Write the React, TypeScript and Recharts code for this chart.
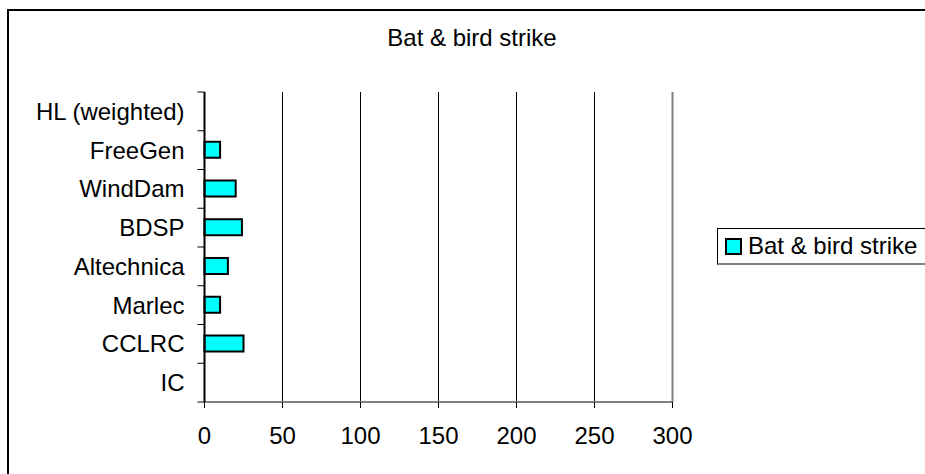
import React from 'react';
import {
  BarChart,
  Bar,
  XAxis,
  YAxis,
  CartesianGrid,
  Legend,
  ReferenceLine
} from 'recharts';

// ============================================================================
// Data
// ============================================================================

const categories = [
  'HL (weighted)',
  'FreeGen',
  'WindDam',
  'BDSP',
  'Altechnica',
  'Marlec',
  'CCLRC',
  'IC'
];

// null = no bar drawn
const strikeValues: (number | null)[] = [null, 10, 20, 24, 15, 10, 25, null];

const xTicks = [0, 50, 100, 150, 200, 250, 300];

const seriesName = 'Bat & bird strike';
const chartTitle = 'Bat & bird strike';

// ============================================================================
// Layout
// ============================================================================

const FONT = '"Liberation Sans", Arial, sans-serif';
const FONT_SIZE = 24;
const PLOT_TOP = 92;
const PLOT_BOTTOM = 402;
const PLOT_LEFT = 204.5;
const PLOT_RIGHT = 672.5;
const Y_TICK_SIZE = 7;
const Y_TICK_MARGIN = 13;

const chartData = categories.map((name, i) => ({ name, value: strikeValues[i] }));

// Category ticks sit between bands (Excel style), so draw them ourselves
const CategoryTick = (props: any) => {
  const { x, y, payload, index } = props;
  const half = (PLOT_BOTTOM - PLOT_TOP) / categories.length / 2;
  const lx1 = x + Y_TICK_MARGIN;
  const lx2 = lx1 + Y_TICK_SIZE;
  return (
    <g>
      <text
        x={x}
        y={y}
        dy="0.355em"
        textAnchor="end"
        fill="#000"
        fontSize={FONT_SIZE}
        fontFamily={FONT}
      >
        {payload.value}
      </text>
      <line x1={lx1} x2={lx2} y1={y - half} y2={y - half} stroke="#000" strokeWidth={1} />
      {index === categories.length - 1 && (
        <line x1={lx1} x2={lx2} y1={y + half} y2={y + half} stroke="#000" strokeWidth={1} />
      )}
    </g>
  );
};

const LegendBox = () => (
  <div
    style={{
      width: 230,
      height: 37,
      borderLeft: '1px solid #000',
      borderTop: '1px solid #000',
      borderBottom: '2px solid #808080',
      display: 'flex',
      alignItems: 'center',
      boxSizing: 'border-box',
      background: '#fff'
    }}
  >
    <span
      style={{
        display: 'inline-block',
        width: 13,
        height: 13,
        marginLeft: 7,
        border: '2px solid #000',
        background: '#00ffff'
      }}
    />
    <span
      style={{
        marginLeft: 6,
        fontFamily: FONT,
        fontSize: FONT_SIZE,
        color: '#000',
        whiteSpace: 'nowrap'
      }}
    >
      {seriesName}
    </span>
  </div>
);

export default function App() {
  return (
    <div
      style={{
        position: 'fixed',
        left: 0,
        top: 0,
        width: 925,
        height: 474,
        overflow: 'hidden',
        background: '#fff'
      }}
    >
      {/* outer chart frame, runs past the right and bottom edges */}
      <div
        style={{
          position: 'absolute',
          left: 7,
          top: 9,
          width: 1000,
          height: 600,
          borderLeft: '2px solid #000',
          borderTop: '2px solid #000',
          boxSizing: 'border-box'
        }}
      />
      <div
        style={{
          position: 'absolute',
          left: 372,
          top: 26,
          width: 200,
          textAlign: 'center',
          fontFamily: FONT,
          fontSize: FONT_SIZE,
          lineHeight: `${FONT_SIZE}px`,
          whiteSpace: 'nowrap',
          color: '#000'
        }}
      >
        {chartTitle}
      </div>
      <div style={{ position: 'absolute', left: 0, top: 0 }}>
        <BarChart
          width={925}
          height={474}
          data={chartData}
          layout="vertical"
          barSize={16}
          margin={{ top: PLOT_TOP, right: 925 - PLOT_RIGHT, bottom: 474 - PLOT_BOTTOM - 40, left: 0 }}
        >
          <CartesianGrid horizontal={false} stroke="#000" strokeWidth={1} />
          <XAxis
            type="number"
            domain={[0, 300]}
            ticks={xTicks}
            interval={0}
            height={40}
            tickSize={6}
            tickMargin={19}
            axisLine={{ stroke: '#808080', strokeWidth: 2 }}
            tickLine={{ stroke: '#000' }}
            tick={{ fill: '#000', fontSize: FONT_SIZE, fontFamily: FONT }}
          />
          <XAxis
            xAxisId="top"
            orientation="top"
            type="number"
            domain={[0, 300]}
            height={0}
            tick={false}
            tickLine={false}
            axisLine={{ stroke: '#808080', strokeWidth: 2 }}
          />
          <YAxis
            type="category"
            dataKey="name"
            width={PLOT_LEFT}
            interval={0}
            tickSize={Y_TICK_SIZE}
            tickMargin={Y_TICK_MARGIN}
            tickLine={false}
            axisLine={{ stroke: '#000', strokeWidth: 2 }}
            tick={<CategoryTick />}
          />
          <ReferenceLine x={300} stroke="#808080" strokeWidth={2} />
          <Legend
            layout="horizontal"
            verticalAlign="middle"
            align="center"
            content={() => <LegendBox />}
            wrapperStyle={{ position: 'absolute', left: 717, top: 228, width: 230, bottom: 'auto' }}
          />
          <Bar
            dataKey="value"
            name={seriesName}
            fill="#00ffff"
            stroke="#000"
            strokeWidth={2}
            isAnimationActive={false}
          />
        </BarChart>
      </div>
    </div>
  );
}
